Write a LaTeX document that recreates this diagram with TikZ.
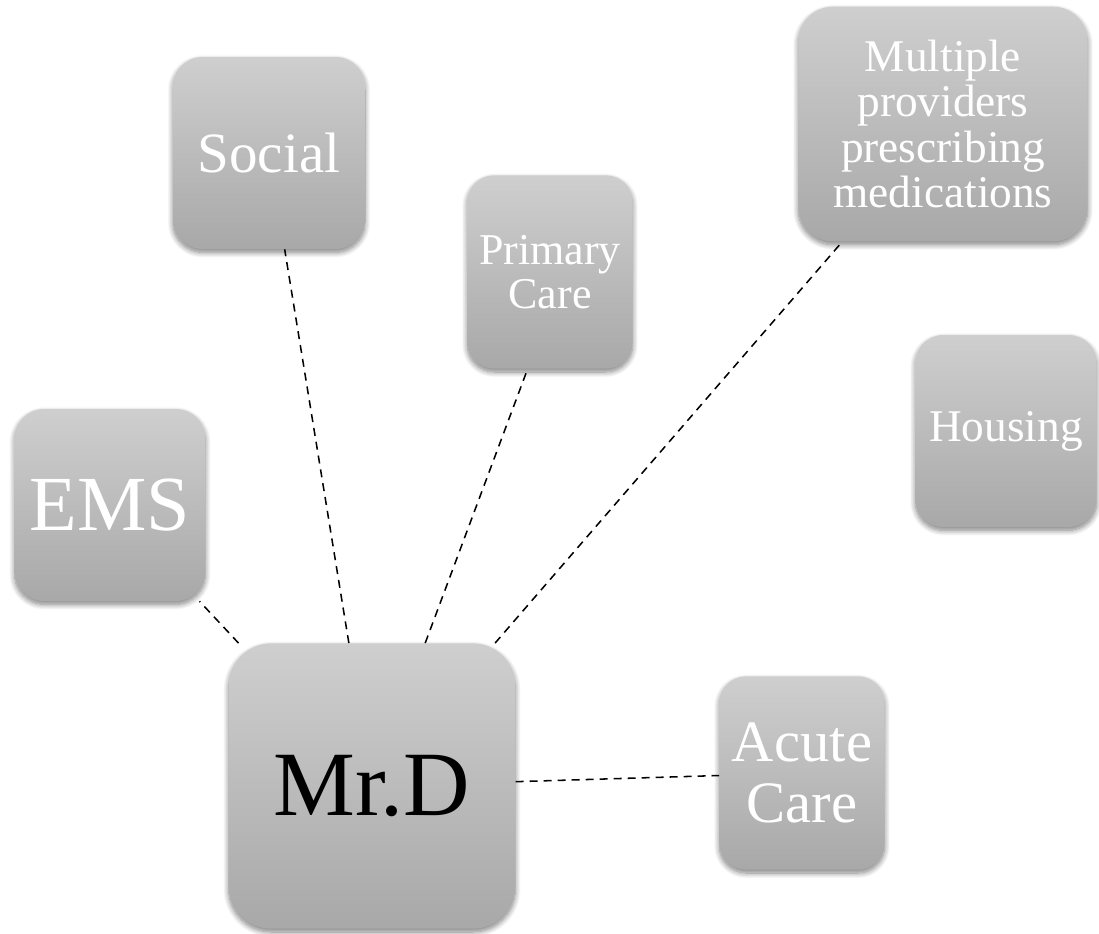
\documentclass[tikz,border=0pt]{standalone}
\usepackage{fontspec}
\setmainfont{Liberation Serif}
\usetikzlibrary{shadows.blur}

\tikzset{
  tile/.style={
    rectangle, align=center, inner sep=2pt,
    top color=gray!38, bottom color=gray!68,
    draw=none, text=white,
    blur shadow={shadow xshift=0pt, shadow yshift=-2.5pt,
                 shadow blur radius=4pt, shadow blur steps=10,
                 shadow opacity=50}
  },
  link/.style={draw=black, line width=1.15pt, dash pattern=on 6pt off 4.5pt}
}
\newcommand{\fs}[2]{\fontsize{#1}{#2}\selectfont}

\begin{document}
\begin{tikzpicture}[x=0.75pt, y=-0.75pt]
  \useasboundingbox (0,0) rectangle (1099,933);

  \node[tile, minimum width=144pt, minimum height=144pt, rounded corners=22pt,
        font=\fs{42.75pt}{43pt}] (social) at (269,153) {Social};
  \node[tile, minimum width=124pt, minimum height=145pt, rounded corners=20pt,
        font=\fs{33pt}{32.5pt}] (primary) at (550,272) {Primary\\Care};
  \node[tile, minimum width=217pt, minimum height=176pt, rounded corners=26pt,
        font=\fs{34pt}{34pt}] (meds) at (943,124)
        {Multiple\\providers\\prescribing\\medications};
  \node[tile, minimum width=136pt, minimum height=144pt, rounded corners=21pt,
        font=\fs{34pt}{34pt}] (housing) at (1006,431) {Housing};
  \node[tile, minimum width=143pt, minimum height=144pt, rounded corners=22pt,
        font=\fs{58.5pt}{59pt}] (ems) at (110,505) {EMS};
  \node[tile, minimum width=215pt, minimum height=214pt, rounded corners=32pt,
        text=black, font=\fs{69pt}{69pt}] (mrd) at (372,786) {Mr.D};
  \node[tile, minimum width=124pt, minimum height=145pt, rounded corners=20pt,
        font=\fs{44pt}{46pt}] (acute) at (802,773) {Acute\\Care};

  % dashed links from Mr.D to the services around him
  \draw[link] (mrd) -- (ems);
  \draw[link] (mrd) -- (social);
  \draw[link] (mrd) -- (primary.-103);
  \draw[link] (mrd) -- (meds);
  \draw[link] (mrd) -- (acute);
\end{tikzpicture}
\end{document}
